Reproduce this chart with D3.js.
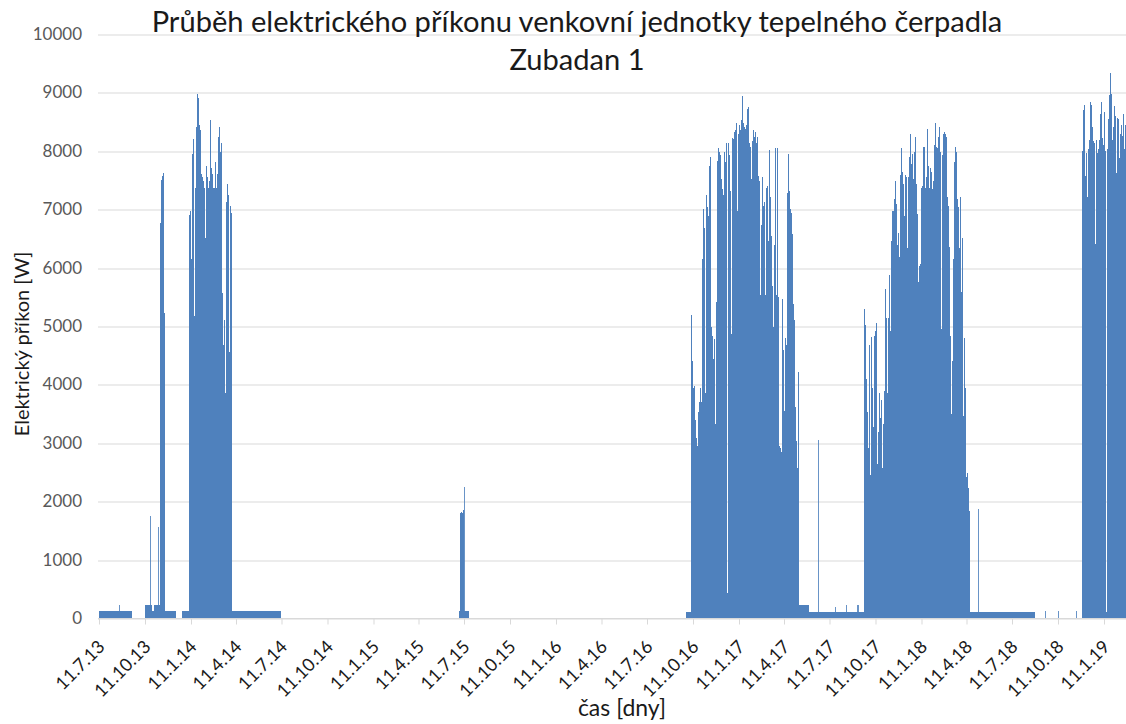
<!DOCTYPE html>
<html>
<head>
<meta charset="utf-8">
<script src="https://cdn.jsdelivr.net/npm/d3@7"></script>
<style>
  body { margin: 0; background: #fff; }
  text { font-family: Lato, "Open Sans", sans-serif; }
</style>
</head>
<body>
<script>
// tick labels of the time axis (every 3 months)
const tickLabels = ["11.7.13", "11.10.13", "11.1.14", "11.4.14", "11.7.14", "11.10.14",
  "11.1.15", "11.4.15", "11.7.15", "11.10.15", "11.1.16", "11.4.16", "11.7.16",
  "11.10.16", "11.1.17", "11.4.17", "11.7.17", "11.10.17", "11.1.18", "11.4.18",
  "11.7.18", "11.10.18", "11.1.19"];
const yTicks = [0, 1000, 2000, 3000, 4000, 5000, 6000, 7000, 8000, 9000, 10000];

// standby power when the unit is off: [from, to, W]
const standby = [
  ["2013-07-11", "2013-09-15", 120],
  ["2013-10-11", "2013-10-25", 230],
  ["2013-10-25", "2013-10-29", 120],
  ["2013-10-29", "2013-11-10", 230],
  ["2013-11-20", "2013-12-12", 120],
  ["2013-12-24", "2014-01-07", 120],
  ["2014-04-03", "2014-07-10", 120],
  ["2015-07-01", "2015-07-21", 125],
  ["2016-09-27", "2016-10-07", 110],
  ["2017-05-11", "2017-05-31", 230],
  ["2017-05-31", "2017-09-18", 110],
  ["2018-04-18", "2018-08-26", 100]
];

// single short peaks: [date, W]
const peaks = [
  ["2013-08-20", 215], ["2013-10-21", 1740], ["2013-11-06", 1560],
  ["2015-07-11", 2240], ["2017-06-18", 3040], ["2017-07-22", 180],
  ["2017-08-13", 230], ["2017-09-04", 230], ["2017-09-06", 230],
  ["2018-05-04", 1870], ["2018-09-15", 120], ["2018-10-11", 120],
  ["2018-11-16", 120]
];

// heating seasons, one value per 2 days (W)
const nov2013 = [6760, 7500, 7560, 7620, 5230];
const winter2014 = [6900, 6970, 6150, 7950, 8200, 5170, 7370, 8400, 8980, 8900, 8440, 8350,
  7610, 7550, 7490, 7370, 6510, 7740, 7550, 7370, 7490, 8530, 7700, 7610, 7370, 7370,
  7800, 7370, 7610, 8230, 8410, 7980, 8130, 5570, 4680, 5110, 3850, 7120, 7430, 7250,
  4560, 7060, 6940];
const july2015 = [1800, 1810, 1790, 1850];
const winter2017 = [5180, 4400, 3940, 3980, 3390, 3090, 2940, 3520, 3700, 3940, 3700, 6150,
  7000, 6670, 3850, 7250, 7030, 6880, 7740, 7890, 4990, 4830, 4430, 4770, 3330, 5410,
  7830, 8040, 7980, 7920, 7520, 7340, 7250, 7980, 7800, 8130, 430, 8130, 7920, 7310,
  4860, 8220, 8200, 8320, 8350, 8470, 6970, 8290, 8440, 8350, 8530, 8930, 8470, 8410,
  8380, 8440, 8720, 8750, 8130, 8070, 7520, 8160, 8350, 8230, 8320, 8130, 8230, 7560,
  7490, 5530, 6730, 7550, 7060, 7120, 5530, 7370, 7400, 6450, 8010, 7210, 6540, 5690,
  4990, 6390, 8040, 5530, 8040, 5500, 2940, 2910, 2840, 5470, 4590, 3550, 4800, 4680,
  7280, 7950, 7310, 7000, 6940, 6570, 5380, 5110, 3610, 3030, 2570, 4220];
const winter2018 = [5290, 5020, 4100, 3520, 2910, 4680, 2450, 4810, 3940, 3270, 4830, 4920,
  5050, 2630, 3180, 3850, 3430, 3730, 2570, 3330, 3880, 5630, 5140, 3850, 5140, 5870,
  4920, 6450, 6970, 6970, 7180, 7490, 7090, 6390, 6600, 6180, 7580, 8040, 7640, 7430,
  6880, 7580, 7550, 6330, 7550, 7890, 8290, 7770, 7950, 7520, 7980, 8230, 7430, 6910,
  5750, 6030, 6060, 7370, 7400, 8070, 8070, 7370, 7550, 8380, 7740, 7370, 7710, 7640,
  7340, 7490, 8100, 8470, 8070, 8040, 8230, 8410, 7980, 4950, 7920, 8290, 8320, 8290,
  8230, 7210, 7060, 6360, 4830, 3490, 4400, 6150, 7800, 8070, 7980, 7180, 7030, 6330,
  7210, 5580, 6510, 3460, 4800, 3940, 2420, 2480, 2230, 1830];
const winter2019 = [8000, 8700, 8790, 7560, 7970, 7210, 8030, 8190, 8830, 8790, 8410, 8160,
  8130, 6410, 8190, 7970, 8030, 8190, 8630, 8830, 8220, 8100, 8670, 8000, 95, 8030,
  8540, 8950, 9330, 8980, 8190, 8410, 8760, 8600, 7620, 8570, 8540, 7870, 8290, 8440,
  8250, 8630, 8030, 8440];

const seasons = [
  { start: "2013-11-10", values: nov2013 },
  { start: "2014-01-07", values: winter2014 },
  { start: "2015-07-03", values: july2015 },
  { start: "2016-10-07", values: winter2017 },
  { start: "2017-09-18", values: winter2018 },
  { start: "2018-11-28", values: winter2019 }
];

const W = 1126, H = 724;
const color = "#4f81bd";
const parseDay = d3.utcParse("%Y-%m-%d");
const parseTick = d3.utcParse("%d.%m.%y");

const svg = d3.select("body").append("svg")
  .attr("width", W)
  .attr("height", H);

const x = d3.scaleUtc()
  .domain([parseDay("2013-07-11"), parseDay("2019-02-24")])
  .range([99, 1126]);
const y = d3.scaleLinear()
  .domain([0, 10000])
  .range([618, 34]);

// y axis + grid
const yAxis = svg.append("g")
  .attr("transform", "translate(98,0)")
  .call(d3.axisLeft(y).tickValues(yTicks).tickFormat(d3.format("d"))
    .tickSize(-(W - 98)).tickPadding(16));
yAxis.select(".domain").remove();
yAxis.selectAll(".tick line").attr("stroke", "#d9d9d9")
  .attr("transform", d => "translate(0," + (Math.round(y(d)) + 0.5 - y(d)) + ")");
yAxis.selectAll(".tick text")
  .attr("fill", "#595959")
  .style("font-size", "17px");

// standby level
svg.append("g").selectAll("rect")
  .data(standby)
  .enter()
  .append("rect")
  .attr("x", d => x(parseDay(d[0])))
  .attr("width", d => x(parseDay(d[1])) - x(parseDay(d[0])))
  .attr("y", d => y(d[2]))
  .attr("height", d => y(0) - y(d[2]))
  .attr("fill", color)
  .attr("shape-rendering", "crispEdges");

// seasons: one column per sample
const samples = [];
seasons.forEach(s => {
  const t0 = parseDay(s.start);
  s.values.forEach((v, i) => samples.push({ t: d3.utcDay.offset(t0, 2 * i), v: v }));
});
svg.append("g").selectAll("rect")
  .data(samples)
  .enter()
  .append("rect")
  .attr("x", d => x(d.t))
  .attr("width", d => x(d3.utcDay.offset(d.t, 2)) - x(d.t))
  .attr("y", d => y(d.v))
  .attr("height", d => y(0) - y(d.v))
  .attr("fill", color)
  .attr("shape-rendering", "crispEdges");

svg.append("g").selectAll("rect")
  .data(peaks)
  .enter()
  .append("rect")
  .attr("x", d => x(parseDay(d[0])))
  .attr("width", 1)
  .attr("y", d => y(d[1]))
  .attr("height", d => y(0) - y(d[1]))
  .attr("fill", color)
  .attr("opacity", 0.85)
  .attr("shape-rendering", "crispEdges");

// x axis
const tickDates = tickLabels.map(parseTick);
const xAxis = svg.append("g")
  .attr("transform", "translate(0,618.5)")
  .call(d3.axisBottom(x).tickValues(tickDates).tickSize(6).tickSizeOuter(0)
    .tickFormat((d, i) => tickLabels[i]));
xAxis.select(".domain").attr("stroke", "#d9d9d9").attr("d", "M98,0H" + W);
xAxis.selectAll(".tick line").attr("stroke", "#d9d9d9");
xAxis.selectAll(".tick text")
  .attr("y", 0)
  .attr("dy", "0.35em")
  .attr("text-anchor", "end")
  .attr("transform", "translate(2,25) rotate(-45)")
  .attr("fill", "#1a1a1a")
  .style("font-size", "18px");

// titles
const title = svg.append("g").attr("fill", "#1a1a1a").attr("text-anchor", "middle");
const t1 = title.append("text")
  .attr("x", 577).attr("y", 32)
  .style("font-size", "26px")
  .text("Průběh elektrického příkonu venkovní jednotky tepelného čerpadla");
const fs = 26 * 851 / t1.node().getComputedTextLength();
t1.style("font-size", fs + "px");
title.append("text")
  .attr("x", 577).attr("y", 70)
  .style("font-size", fs + "px")
  .text("Zubadan 1");

svg.append("text")
  .attr("transform", "translate(29,344) rotate(-90)")
  .attr("text-anchor", "middle")
  .attr("fill", "#1a1a1a")
  .style("font-size", "20px")
  .text("Elektrický příkon [W]");

svg.append("text")
  .attr("x", 622).attr("y", 716)
  .attr("text-anchor", "middle")
  .attr("fill", "#1a1a1a")
  .style("font-size", "23px")
  .text("čas [dny]");
</script>
</body>
</html>
